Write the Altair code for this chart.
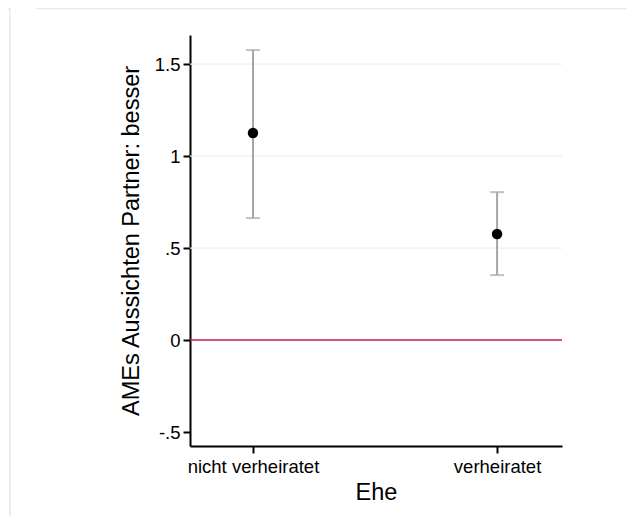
import altair as alt
import pandas as pd

categories = ["nicht verheiratet", "verheiratet"]
xpos = [0, 1]
ame = [1.125, 0.576]
ci_low = [0.663, 0.353]
ci_high = [1.576, 0.804]
grid_vals = [0.5, 1.0, 1.5]
y_ticks = [-0.5, 0, 0.5, 1, 1.5]
y_tick_labels = ["-.5", "0", ".5", "1", "1.5"]

df = pd.DataFrame({"x": xpos, "cat": categories, "ame": ame, "lo": ci_low, "hi": ci_high})
grid_df = pd.DataFrame({"g": grid_vals})
zero_df = pd.DataFrame({"z": [0]})

FONT = "Liberation Sans"
xscale = alt.Scale(domain=[-0.258, 1.266], nice=False, zero=False)
yscale = alt.Scale(domain=[-0.576, 1.658], nice=False, zero=False)

label_expr = "datum.value == 0 ? '%s' : (datum.value == 1 ? '%s' : '')" % (categories[0], categories[1])
ylab_expr = " : ".join(
    "datum.value == %s ? '%s'" % (v, l) for v, l in zip(y_ticks, y_tick_labels)) + " : ''"

x_enc = alt.X("x:Q", scale=xscale, title="Ehe",
              axis=alt.Axis(values=xpos, labelExpr=label_expr, grid=False, domainColor="black",
                            domainWidth=2, tickColor="black", tickWidth=2, tickSize=7,
                            labelFontSize=18.5, labelFont=FONT, labelColor="black", labelPadding=4,
                            titleFontSize=23.5, titleFont=FONT, titleFontWeight="normal",
                            titleColor="black", titlePadding=5))
y_axis = alt.Axis(values=y_ticks, labelExpr=ylab_expr, grid=False, domainColor="black",
                  domainWidth=2, tickColor="black", tickWidth=2, tickSize=7,
                  labelFontSize=18.5, labelFont=FONT, labelColor="black", labelPadding=3,
                  titleFontSize=23.5, titleFont=FONT, titleFontWeight="normal",
                  titleColor="black", titlePadding=11)

frame_color = "#e4eaea"
frame_top = alt.Chart(zero_df).mark_rule(color=frame_color, strokeWidth=1.5).encode(
    x=alt.value(-154), x2=alt.value(445), y=alt.value(-26.5))
frame_top2 = alt.Chart(zero_df).mark_rule(color=frame_color, strokeWidth=1.5).encode(
    x=alt.value(-190), x2=alt.value(-180), y=alt.value(-26.5))
frame_left = alt.Chart(zero_df).mark_rule(color=frame_color, strokeWidth=1.5).encode(
    x=alt.value(-180), y=alt.value(-27), y2=alt.value(500))

grid = alt.Chart(grid_df).mark_rule(color="#e8f0f2", strokeWidth=1.2).encode(
    y=alt.Y("g:Q", scale=yscale, axis=y_axis, title="AMEs Aussichten Partner: besser"))
zero = alt.Chart(zero_df).mark_rule(color="#c8174a", strokeWidth=1.5).encode(
    y=alt.Y("z:Q", scale=yscale))
bars = alt.Chart(df).mark_rule(color="#a6a6a6", strokeWidth=2).encode(
    x=x_enc, y=alt.Y("lo:Q", scale=yscale), y2="hi:Q")
cap_lo = alt.Chart(df).mark_tick(color="#a6a6a6", thickness=2, size=14, orient="horizontal").encode(
    x=alt.X("x:Q", scale=xscale), y=alt.Y("lo:Q", scale=yscale))
cap_hi = alt.Chart(df).mark_tick(color="#a6a6a6", thickness=2, size=14, orient="horizontal").encode(
    x=alt.X("x:Q", scale=xscale), y=alt.Y("hi:Q", scale=yscale))
pts = alt.Chart(df).mark_circle(color="black", size=110, opacity=1).encode(
    x=alt.X("x:Q", scale=xscale), y=alt.Y("ame:Q", scale=yscale))

chart = alt.layer(grid, zero, bars, cap_lo, cap_hi, pts, frame_top, frame_top2, frame_left).properties(
    width=372, height=411,
    autosize=alt.AutoSizeParams(type="none"),
    padding={"left": 182, "top": 27, "right": 65, "bottom": 70},
).configure(background="white").configure_view(stroke=None, strokeWidth=0)

chart.save("out.html", embed_options={"renderer": "svg", "actions": False})
